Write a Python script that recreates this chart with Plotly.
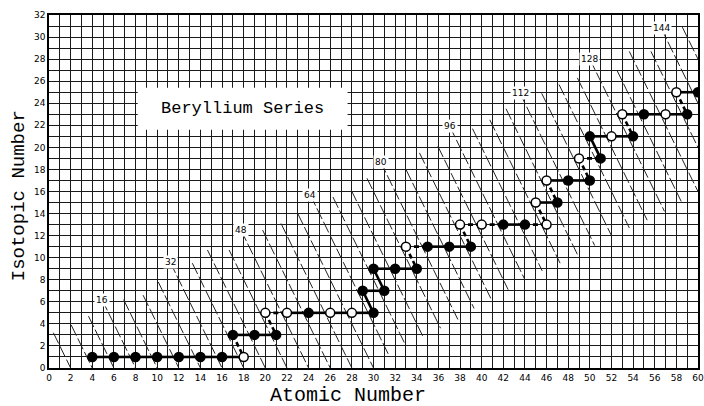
import plotly.graph_objects as go

# ---- data points of the Beryllium series ----
atomic = [4, 6, 8, 10, 12, 14, 16, 18,
          17, 19, 21,
          20, 22, 24, 26, 28, 30,
          29, 31,
          30, 32, 34,
          33, 35, 37, 39,
          38, 40, 42, 44, 46,
          45, 47,
          46, 48, 50,
          49, 51,
          50, 52, 54,
          53, 55, 57, 59,
          58, 60]
isotopic = [1, 1, 1, 1, 1, 1, 1, 1,
            3, 3, 3,
            5, 5, 5, 5, 5, 5,
            7, 7,
            9, 9, 9,
            11, 11, 11, 11,
            13, 13, 13, 13, 13,
            15, 15,
            17, 17, 17,
            19, 19,
            21, 21, 21,
            23, 23, 23, 23,
            25, 25]
filled = [1, 1, 1, 1, 1, 1, 1, 0,
          1, 1, 1,
          0, 0, 1, 0, 0, 1,
          1, 1,
          1, 1, 1,
          0, 1, 1, 1,
          0, 0, 1, 1, 0,
          0, 1,
          0, 1, 1,
          0, 1,
          1, 0, 1,
          0, 1, 0, 1,
          0, 1]

# connections (index pairs into the point lists)
solid_links = [(0, 1), (1, 2), (2, 3), (3, 4), (4, 5), (5, 6), (6, 7),
               (8, 9), (9, 10),
               (12, 13), (13, 14), (14, 15), (15, 16),
               (17, 18), (17, 16), (19, 18),
               (19, 20), (20, 21),
               (23, 24), (24, 25),
               (28, 29),
               (31, 32),
               (33, 34), (34, 35),
               (38, 37), (38, 39), (39, 40),
               (41, 42), (42, 43), (43, 44),
               (45, 46)]
dashed_links = [(11, 12), (22, 23), (26, 27), (27, 28), (29, 30), (36, 37),
                (8, 7), (11, 10), (22, 21), (26, 25), (31, 30),
                (33, 32), (36, 35), (41, 40), (45, 44)]

# ---- constant mass-number guide lines ----
mass_numbers = [4, 8, 12, 16, 20, 24, 28, 32, 36, 40, 44, 48, 52, 56, 60, 64, 68, 72,
                76, 80, 84, 88, 92, 96, 100, 104, 108, 112, 116, 120, 124, 128, 132,
                136, 140, 144, 148]
mass_top = [3.2, 3.9, 4.7, 6.2, 6.2, 6.6, 7.8, 9.6, 9.5, 10.7, 10.7, 12.5, 12.5, 13.1,
            14.0, 15.7, 15.5, 16.1, 17.2, 18.7, 18.0, 19.5, 20.1, 21.9, 21.7, 22.5,
            23.5, 24.9, 24.9, 25.7, 26.3, 28.0, 27.0, 28.7, 28.7, 30.8, 30.9]
mass_bottom = [0, 0, 0, 0, 0, 0, 0, 0, 0, 0, 0, 0, 0, 0, 0, 1.2, 2.0, 2.8, 3.6,
               4.4, 5.4, 6.3, 7.1, 8.0, 8.8, 9.5, 10.2, 11.1, 12.0, 12.7, 13.4, 14.2,
               15.1, 15.9, 16.7, 17.5, 18.3]
label_masses = [16, 32, 48, 64, 80, 96, 112, 128, 144]
label_iso = [6.2, 9.6, 12.5, 15.7, 18.7, 21.9, 24.9, 28.0, 30.8]

x_ticks = list(range(0, 61, 2))
y_ticks = list(range(0, 33, 2))

fig = go.Figure()

# guide lines
gx, gy = [], []
for A, t, b in zip(mass_numbers, mass_top, mass_bottom):
    gx += [(A - t) / 2, (A - b) / 2, None]
    gy += [t, b, None]
fig.add_trace(go.Scatter(x=gx, y=gy, mode="lines",
                         line=dict(color="#222", width=1, dash="12px,3px"),
                         hoverinfo="skip", showlegend=False))


def link_xy(links):
    lx, ly = [], []
    for a, b in links:
        lx += [atomic[a], atomic[b], None]
        ly += [isotopic[a], isotopic[b], None]
    return lx, ly


sx, sy = link_xy(solid_links)
fig.add_trace(go.Scatter(x=sx, y=sy, mode="lines",
                         line=dict(color="black", width=2.6),
                         hoverinfo="skip", showlegend=False))
dx, dy = link_xy(dashed_links)
fig.add_trace(go.Scatter(x=dx, y=dy, mode="lines",
                         line=dict(color="black", width=2.6, dash="5px,3px"),
                         hoverinfo="skip", showlegend=False))

fig.add_trace(go.Scatter(
    x=atomic, y=isotopic, mode="markers",
    marker=dict(size=9, color=["black" if f else "white" for f in filled],
                line=dict(color="black", width=1.5)),
    showlegend=False))

# title box
fig.add_shape(type="rect", x0=8.2, x1=27.6, y0=21.6, y1=25.4,
              fillcolor="white", line=dict(width=0), layer="above")
fig.add_annotation(x=17.9, y=23.5, text="Beryllium Series", showarrow=False,
                   xanchor="center", yanchor="middle",
                   font=dict(family="Liberation Mono", size=17, color="black"))

for A, yl in zip(label_masses, label_iso):
    fig.add_annotation(x=(A - yl) / 2, y=yl, text=str(A), showarrow=False,
                       xanchor="center", yanchor="middle",
                       bgcolor="white", borderpad=1,
                       font=dict(family="DejaVu Sans", size=9, color="black"))

fig.add_annotation(xref="paper", yref="paper", x=0.461, y=-0.079,
                   xanchor="center", yanchor="middle",
                   text="Atomic Number", showarrow=False,
                   font=dict(family="Liberation Mono", size=20, color="black"))
fig.add_annotation(xref="paper", yref="paper", x=-0.046, y=0.487,
                   xanchor="center", yanchor="middle",
                   text="Isotopic Number", showarrow=False, textangle=-90,
                   font=dict(family="Liberation Mono", size=19, color="black"))

axis_common = dict(showgrid=True, gridcolor="#1a1a1a", gridwidth=1.1,
                   zeroline=False, showline=True, linecolor="black", linewidth=1.5,
                   mirror=True, ticks="", ticklabeloverflow="allow", automargin=False,
                   tickfont=dict(family="DejaVu Sans", size=9, color="black"))
fig.update_xaxes(range=[0, 60], tickvals=x_ticks,
                 minor=dict(dtick=1, tick0=0, showgrid=True, gridcolor="#1a1a1a",
                            gridwidth=1.1),
                 **axis_common)
fig.update_yaxes(range=[0, 32], tickvals=y_ticks,
                 minor=dict(dtick=1, tick0=0, showgrid=True, gridcolor="#1a1a1a",
                            gridwidth=1.1),
                 **axis_common)

fig.update_layout(width=704, height=406,
                  margin=dict(l=49, r=6, t=15, b=38, autoexpand=False),
                  plot_bgcolor="white", paper_bgcolor="white")

fig.write_html("out.html")
